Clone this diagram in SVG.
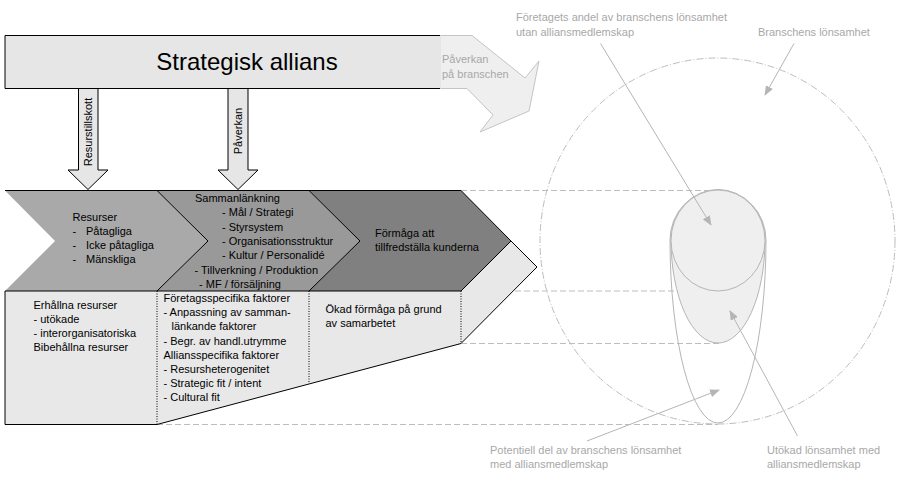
<svg xmlns="http://www.w3.org/2000/svg" width="898" height="479" viewBox="0 0 898 479">
<defs>
<style>
text{font-family:"Liberation Sans",Arial,sans-serif;font-size:11px;fill:#000}
.lbl{fill:#a8a8a8}
.dash{stroke:#bdbdbd;stroke-width:1;stroke-dasharray:6,3;fill:none}
.blk{stroke:#000;stroke-width:1;fill:none}
.dot{stroke:#000;stroke-width:1;stroke-dasharray:1,1.5;fill:none}
.ptr{stroke:#b5b5b5;stroke-width:1;fill:none;marker-end:url(#ah)}
.down{fill:#e6e6e6;stroke:#000;stroke-width:1}
</style>
<marker id="ah" markerUnits="userSpaceOnUse" markerWidth="10" markerHeight="8" refX="9" refY="4" orient="auto">
<path d="M0,0 L10,4 L0,8 Z" fill="#b5b5b5"/>
</marker>
</defs>
<rect width="898" height="479" fill="#fff"/>

<g id="profitability">
<ellipse cx="717.5" cy="241" rx="177.5" ry="183" fill="none" stroke="#bdbdbd" stroke-dasharray="7,2,1,2"/>
<line class="dash" x1="461" y1="190.5" x2="718" y2="190.5"/>
<line class="dash" x1="461" y1="291" x2="718" y2="291"/>
<line class="dash" x1="461" y1="343.5" x2="720" y2="343.5"/>
<line class="dash" x1="157" y1="424.5" x2="718" y2="424.5"/>
<path d="M670,240 A48 50 0 0 1 766,240 A48 183 0 0 1 670,240 Z" fill="none" stroke="#b5b5b5"/>
<path d="M671,240 A47 50.5 0 0 1 765,240 A47 103 0 0 1 671,240 Z" fill="#efefef" stroke="#b5b5b5"/>
<ellipse cx="718" cy="240.5" rx="47" ry="50.5" fill="#efefef" stroke="#b5b5b5"/>
</g>

<g id="industry-arrow">
<polygon points="440,35.5 472,35.5 525,78 539,61 529,111 480,132 493,115 467,88.5 440,88.5" fill="#efefef" stroke="#c4c4c4"/>
<text class="lbl" x="442" y="63" fill="#b5b5b5">Påverkan</text>
<text class="lbl" x="442" y="78">på branschen</text>
</g>

<g id="strategisk-allians">
<rect x="5" y="35.5" width="436" height="53" fill="#e6e6e6"/>
<path class="blk" d="M440,35.5 H5 V88.5 H440"/>
<text x="247" y="70" text-anchor="middle" style="font-size:24px">Strategisk allians</text>
</g>

<g id="arrow-resurstillskott">
<polygon class="down" points="78.5,88.5 98,88.5 98,170 108,170 88,189.5 68,170 78.5,170"/>
<text transform="translate(92,132) rotate(-90)" text-anchor="middle">Resurstillskott</text>
</g>

<g id="arrow-paverkan">
<polygon class="down" points="228,88.5 248,88.5 248,170 258,170 238,189.5 218,170 228,170"/>
<text transform="translate(242,131) rotate(-90)" text-anchor="middle">Påverkan</text>
</g>

<g id="chevron-resurser">
<polygon points="5,190.5 157,190.5 208,241 157,291 5,291 55,241" fill="#a9a9a9"/>
<text x="72.5" y="220.5">Resurser</text>
<text x="72.5" y="234.5">-</text><text x="86" y="234.5">Påtagliga</text>
<text x="72.5" y="248.5">-</text><text x="86" y="248.5">Icke påtagliga</text>
<text x="72.5" y="262.5">-</text><text x="86" y="262.5">Mänskliga</text>
</g>

<g id="chevron-sammanlankning">
<polygon points="157,190.5 309,190.5 360,241 309,291 157,291 208,241" fill="#999999"/>
<text x="195" y="202">Sammanlänkning</text>
<text x="222" y="216.3">- Mål / Strategi</text>
<text x="222" y="230.6">- Styrsystem</text>
<text x="222" y="245">- Organisationsstruktur</text>
<text x="222" y="259.3">- Kultur / Personalidé</text>
<text x="194.5" y="273.6">- Tillverkning / Produktion</text>
<text x="199" y="288">- MF / försäljning</text>
</g>

<g id="chevron-formaga">
<polygon points="309,190.5 461,190.5 511,241 461,291 309,291 360,241" fill="#808080"/>
<text x="375" y="237">Förmåga att</text>
<text x="375" y="251">tillfredställa kunderna</text>
</g>

<g id="side-face">
<polygon points="511,241 537,267 461,343.5 461,291" fill="#e8e8e8"/>
<path class="blk" d="M511,241 L537,267 L461,343.5"/>
</g>

<g id="front-face">
<polygon points="5,291 461,291 461,343.5 157,424.5 5,424.5" fill="#e8e8e8"/>
<path class="blk" d="M5,291 V424.5 H157 L461,343.5"/>
<line class="dot" x1="157" y1="291" x2="157" y2="424"/>
<line class="dot" x1="309" y1="291" x2="309" y2="383.5"/>
<line class="dot" x1="461" y1="291" x2="461" y2="343"/>
</g>

<g id="box-erhallna">
<text x="33.5" y="309">Erhållna resurser</text>
<text x="33.5" y="323">- utökade</text>
<text x="33.5" y="337">- interorganisatoriska</text>
<text x="33.5" y="351">Bibehållna resurser</text>
</g>

<g id="box-faktorer">
<text x="163.5" y="302">Företagsspecifika faktorer</text>
<text x="163.5" y="316">- Anpassning av samman-</text>
<text x="171.5" y="330">länkande faktorer</text>
<text x="163.5" y="344.5">- Begr. av handl.utrymme</text>
<text x="163.5" y="358.5">Alliansspecifika faktorer</text>
<text x="163.5" y="372.5">- Resursheterogenitet</text>
<text x="163.5" y="386.5">- Strategic fit / intent</text>
<text x="163.5" y="400.5">- Cultural fit</text>
</g>

<g id="box-okad">
<text x="325.5" y="313">Ökad förmåga på grund</text>
<text x="325.5" y="327">av samarbetet</text>
</g>

<g id="chevron-lines">
<path class="blk" d="M5,190.5 H461 M5,291 H461 M157,190.5 L208,241 L157,291 M309,190.5 L360,241 L309,291 M461,190.5 L511,241 L461,291"/>
</g>

<g id="connectors">
<line class="ptr" x1="600.5" y1="43.5" x2="711" y2="225"/>
<line class="ptr" x1="794" y1="43.5" x2="765" y2="95"/>
<line class="ptr" x1="587" y1="441" x2="719" y2="390"/>
<line class="ptr" x1="797.5" y1="436" x2="730" y2="311"/>
</g>

<g id="labels">
<text class="lbl" x="516" y="21">Företagets andel av branschens lönsamhet</text>
<text class="lbl" x="516" y="35.5">utan alliansmedlemskap</text>
<text class="lbl" x="758" y="35.5">Branschens lönsamhet</text>
<text class="lbl" x="490" y="453.5">Potentiell del av branschens lönsamhet</text>
<text class="lbl" x="490" y="467.5">med alliansmedlemskap</text>
<text class="lbl" x="767" y="453.5">Utökad lönsamhet med</text>
<text class="lbl" x="767" y="467.5">alliansmedlemskap</text>
</g>
</svg>
